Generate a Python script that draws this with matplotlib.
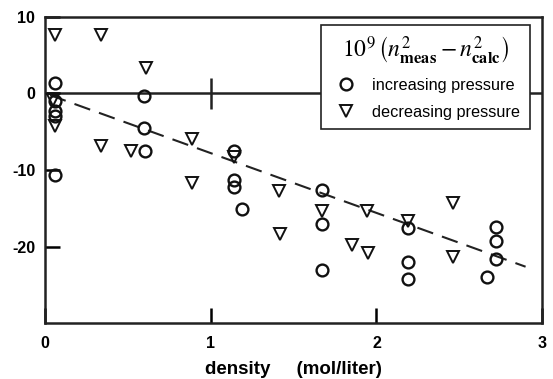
import numpy as np
import matplotlib
matplotlib.use("Agg")
import matplotlib.pyplot as plt

# increasing pressure (circles)
inc_density = [0.06, 0.06, 0.06, 0.06, 0.06, 0.60, 0.60, 0.605,
               1.14, 1.14, 1.14, 1.19, 1.67, 1.67, 1.67,
               2.19, 2.19, 2.19, 2.72, 2.72, 2.72, 2.67]
inc_dn2 = [1.4, -1.0, -2.3, -2.9, -10.7, -0.3, -4.5, -7.5,
           -7.5, -11.3, -12.2, -15.1, -12.6, -17.0, -23.1,
           -17.6, -22.0, -24.2, -17.4, -19.3, -21.6, -23.9]

# decreasing pressure (triangles)
dec_density = [0.06, 0.34, 0.61, 0.05, 0.06, 0.34, 0.52, 0.885, 0.885,
               1.14, 1.41, 1.42, 1.67, 1.94, 1.85, 1.95, 2.19, 2.46, 2.46]
dec_dn2 = [7.6, 7.6, 3.3, -0.9, -4.2, -6.9, -7.5, -6.0, -11.7,
           -8.3, -12.8, -18.3, -15.4, -15.4, -19.8, -20.8, -16.7, -14.3, -21.4]

# linear fit through origin
fit_slope = -7.8
fit_range = [0.03, 2.9]

xticks = [0, 1, 2, 3]
yticks = [10, 0, -10, -20]

plt.rcParams['font.family'] = ['Liberation Sans', 'DejaVu Sans']
plt.rcParams['mathtext.fontset'] = 'stix'
plt.rcParams['axes.unicode_minus'] = False

fig = plt.figure(figsize=(5.53, 3.79), dpi=100)
ax = fig.add_axes([0.0814, 0.147, 0.899, 0.809])

ax.axhline(0, color='#222222', lw=1.8, zorder=1)
xf = np.array(fit_range)
ax.plot(xf, fit_slope * xf, ls=(0, (8, 4.5)), color='#222222', lw=1.5, zorder=2)

ax.plot(inc_density, inc_dn2, 'o', ms=8.5, mfc='none', mec='#111111', mew=1.7,
        label='increasing pressure', zorder=3)
ax.plot(dec_density, dec_dn2, 'v', ms=9, mfc='none', mec='#111111', mew=1.4,
        label='decreasing pressure', zorder=3)

# small cross tick on the zero line
ax.vlines(xticks[1], -2, 2, color='#222222', lw=1.8, zorder=1)

ax.set_xlim(0, 3)
ax.set_ylim(-30, 10)
ax.set_xticks(xticks)
ax.set_yticks(yticks)
ax.tick_params(direction='in', length=11, width=1.8, labelsize=11.5)
ax.tick_params(axis='y', pad=7)
ax.tick_params(axis='x', pad=9)
for lab in ax.get_xticklabels() + ax.get_yticklabels():
    lab.set_fontweight('bold')
for s in ax.spines.values():
    s.set_linewidth(1.8)
    s.set_color('#222222')

ax.set_xlabel('density     (mol/liter)', fontsize=13.5, fontweight='bold', labelpad=7)

leg = ax.legend(loc='upper left', bbox_to_anchor=(0.555, 0.973, 0.421, 0.0),
                mode='expand',
                title=r'$10^9\,\left(n^2_{\mathbf{meas}} - n^2_{\mathbf{calc}}\right)$',
                title_fontsize=17, fontsize=11.7, frameon=True, fancybox=False,
                edgecolor='#222222', borderpad=0.55, handletextpad=0.6,
                labelspacing=0.75, handlelength=2.0, borderaxespad=0)
leg.get_frame().set_linewidth(1.2)
leg.get_frame().set_alpha(1)

fig.savefig('out.png', dpi=100)
